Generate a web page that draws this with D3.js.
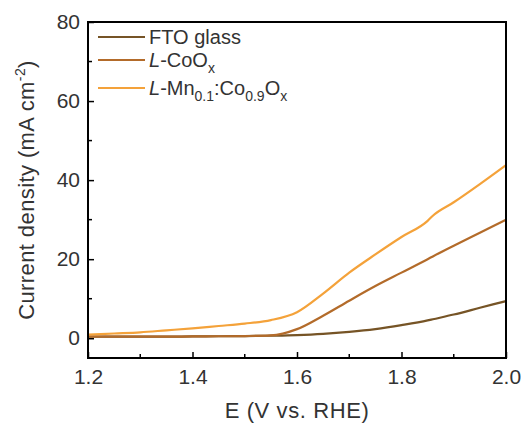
<!DOCTYPE html>
<html>
<head>
<meta charset="utf-8">
<script src="https://cdn.jsdelivr.net/npm/d3@7"></script>
<style>
  body { margin: 0; background: #fff; }
  svg { display: block; font-family: "Liberation Sans", Arial, sans-serif; }
</style>
</head>
<body>
<div id="chart"></div>
<script>
// values
const potential = [1.20, 1.25, 1.30, 1.35, 1.40, 1.45, 1.50, 1.55, 1.60, 1.65, 1.70, 1.75, 1.80, 1.85, 1.86, 1.90, 1.95, 2.00];
const ftoGlass  = [0.4, 0.4, 0.4, 0.4, 0.45, 0.5, 0.55, 0.65, 0.8, 1.1, 1.6, 2.3, 3.3, 4.5, 4.8, 6.0, 7.7, 9.4];
const coOx      = [0.4, 0.4, 0.4, 0.4, 0.45, 0.5, 0.55, 0.7, 2.3, 5.7, 9.5, 13.2, 16.6, 20.0, 20.7, 23.4, 26.7, 30.0];
const mnCoOx    = [0.9, 1.2, 1.5, 2.0, 2.5, 3.1, 3.7, 4.6, 6.6, 11.3, 16.6, 21.2, 25.6, 29.7, 31.0, 34.4, 39.0, 43.8];

const xTicks = [1.2, 1.4, 1.6, 1.8, 2.0];
const xMinor = [1.3, 1.5, 1.7, 1.9];
const yTicks = [0, 20, 40, 60, 80];
const yMinor = [10, 30, 50, 70];

const seriesNames = ['FTO glass', 'CoOx', 'MnCoOx'];
const seriesValues = [ftoGlass, coOx, mnCoOx];
const seriesColors = ['#765426', '#b36b2a', '#f4a23a'];

const width = 528;
const height = 429;
const margin = { top: 22, right: 22, bottom: 71, left: 88 };

const svg = d3.select('#chart').append('svg')
  .attr('width', width)
  .attr('height', height);

const x = d3.scaleLinear().domain([1.2, 2.0]).range([margin.left, width - margin.right]);
const y = d3.scaleLinear().domain([-5, 80]).range([height - margin.bottom, margin.top]);

const textColor = '#333';

// curves
const line = d3.line()
  .x((d, i) => x(potential[i]))
  .y(d => y(d))
  .curve(d3.curveMonotoneX);

seriesValues.forEach((vals, k) => {
  svg.append('path')
    .datum(vals)
    .attr('fill', 'none')
    .attr('stroke', seriesColors[k])
    .attr('stroke-width', 2.2)
    .attr('stroke-linejoin', 'round')
    .attr('d', line);
});

// axes, ticks pointing inward
const xAxis = svg.append('g')
  .attr('transform', `translate(0,${height - margin.bottom})`)
  .call(d3.axisBottom(x).tickValues(xTicks).tickFormat(d3.format('.1f')).tickSizeInner(-6).tickSizeOuter(0).tickPadding(11));
xAxis.append('g').selectAll('line').data(xMinor).join('line')
  .attr('x1', d => x(d)).attr('x2', d => x(d))
  .attr('y1', 0).attr('y2', -4)
  .attr('stroke', '#000').attr('stroke-width', 1.5);

const yAxis = svg.append('g')
  .attr('transform', `translate(${margin.left},0)`)
  .call(d3.axisLeft(y).tickValues(yTicks).tickSizeInner(-6).tickSizeOuter(0).tickPadding(8));
yAxis.append('g').selectAll('line').data(yMinor).join('line')
  .attr('y1', d => y(d)).attr('y2', d => y(d))
  .attr('x1', 0).attr('x2', 4)
  .attr('stroke', '#000').attr('stroke-width', 1.5);

svg.selectAll('.tick line').attr('stroke-width', 1.5);
svg.selectAll('.domain').remove();
svg.selectAll('.tick text')
  .attr('fill', textColor)
  .style('font-size', '21px');

// frame
svg.append('rect')
  .attr('x', margin.left)
  .attr('y', margin.top)
  .attr('width', width - margin.left - margin.right)
  .attr('height', height - margin.top - margin.bottom)
  .attr('fill', 'none')
  .attr('stroke', '#000')
  .attr('stroke-width', 2);

// axis titles
svg.append('text')
  .attr('x', x(1.6))
  .attr('y', 418)
  .attr('text-anchor', 'middle')
  .attr('fill', textColor)
  .style('font-size', '22px')
  .style('letter-spacing', '0.6px')
  .text('E (V vs. RHE)');

const yTitle = svg.append('text')
  .attr('transform', `translate(34,${(margin.top + height - margin.bottom) / 2}) rotate(-90)`)
  .attr('text-anchor', 'middle')
  .attr('fill', textColor)
  .style('font-size', '22px')
  .style('letter-spacing', '0.4px');
yTitle.append('tspan').text('Current density (mA cm');
yTitle.append('tspan').attr('dy', -9).style('font-size', '14px').text('-2');
yTitle.append('tspan').attr('dy', 9).text(')');

// legend
const legendRows = [
  { y: 37, parts: [['FTO glass', '']] },
  { y: 60, parts: [['L', 'i'], ['-CoO', ''], ['x', 's']] },
  { y: 88, parts: [['L', 'i'], ['-Mn', ''], ['0.1', 's'], [':Co', ''], ['0.9', 's'], ['O', ''], ['x', 's']] }
];

const legend = svg.append('g');
legendRows.forEach((row, k) => {
  legend.append('line')
    .attr('x1', 98).attr('x2', 145)
    .attr('y1', row.y).attr('y2', row.y)
    .attr('stroke', seriesColors[k])
    .attr('stroke-width', 2.2);
  const t = legend.append('text')
    .attr('x', 149)
    .attr('y', row.y + 7)
    .attr('fill', textColor)
    .style('font-size', '20px');
  let shifted = false;
  row.parts.forEach(([str, kind]) => {
    const sp = t.append('tspan').text(str);
    if (kind === 'i') sp.style('font-style', 'italic');
    if (kind === 's') {
      sp.style('font-size', '14px');
      if (!shifted) { sp.attr('dy', 6); shifted = true; }
    } else if (shifted) {
      sp.attr('dy', -6); shifted = false;
    }
  });
});
</script>
</body>
</html>
